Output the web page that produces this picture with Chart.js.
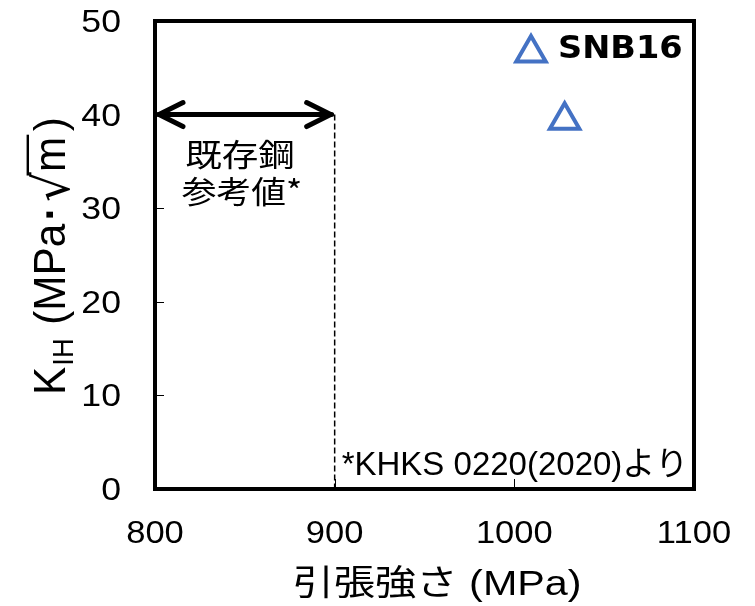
<!DOCTYPE html>
<html>
<head>
<meta charset="utf-8">
<script src="https://cdn.jsdelivr.net/npm/chart.js@4.4.1/dist/chart.umd.min.js"></script>
<style>
  html, body { margin: 0; padding: 0; background: #fff; }
  canvas { display: block; }
</style>
</head>
<body>
<canvas id="c" width="755" height="606"></canvas>
<script>
// ---- data ----
const seriesName = 'SNB16';
const tensileStrength = [1028];     // MPa
const kIH = [39.4];                 // MPa·√m
const xTicks = [800, 900, 1000, 1100];
const yTicks = [0, 10, 20, 30, 40, 50];
const refStrength = [800, 900];     // 既存鋼 reference range (MPa)
const refKIH = 40;                  // 既存鋼 reference K_IH
const refLabel = ['既存鋼', '参考値*'];
const footnote = '*KHKS 0220(2020)より';
const xTitle = '引張強さ (MPa)';

const BLUE = '#4472C4';
const LATIN = '"Liberation Sans", Arial, "Noto Sans CJK JP", sans-serif';
const CJK = '"Noto Sans CJK JP", "Liberation Sans", sans-serif';

const points = tensileStrength.map((x, i) => ({ x, y: kIH[i] }));

// text drawn with a horizontal scale factor
function text(ctx, s, x, y, font, align, sx) {
  ctx.save();
  ctx.font = font;
  ctx.textAlign = align;
  ctx.textBaseline = 'alphabetic';
  ctx.translate(x, y);
  ctx.scale(sx, 1);
  ctx.fillText(s, 0, 0);
  ctx.restore();
}

// frame, tick labels, reference arrow, notes, legend and axis titles
const decorations = {
  id: 'decorations',
  afterDraw(chart) {
    const { ctx, chartArea: a, scales: { x, y } } = chart;
    ctx.save();
    ctx.fillStyle = '#000';
    ctx.strokeStyle = '#000';

    // tick labels
    x.ticks.forEach(t => {
      text(ctx, String(t.value), x.getPixelForValue(t.value), 543, '32px ' + LATIN, 'center', 1.08);
    });
    y.ticks.forEach(t => {
      text(ctx, String(t.value), 121, y.getPixelForValue(t.value) + 11, '31px ' + LATIN, 'right', 1.15);
    });

    // inner tick marks
    ctx.lineWidth = 1;
    ctx.beginPath();
    x.ticks.forEach(t => {
      const px = Math.round(x.getPixelForValue(t.value)) + 0.5;
      ctx.moveTo(px, a.bottom); ctx.lineTo(px, a.bottom - 10);
    });
    y.ticks.forEach(t => {
      const py = Math.round(y.getPixelForValue(t.value)) + 0.5;
      ctx.moveTo(a.left, py); ctx.lineTo(a.left + 9, py);
    });
    ctx.stroke();

    // dashed drop line at the upper end of the reference range
    const xr = x.getPixelForValue(refStrength[1]);
    const yr = y.getPixelForValue(refKIH);
    ctx.setLineDash([6, 3]);
    ctx.lineWidth = 1.5;
    ctx.beginPath();
    ctx.moveTo(xr, yr); ctx.lineTo(xr, a.bottom);
    ctx.stroke();
    ctx.setLineDash([]);

    // double-headed arrow across the reference range
    const xl = x.getPixelForValue(refStrength[0]);
    ctx.lineWidth = 5;
    ctx.lineCap = 'round';
    ctx.lineJoin = 'round';
    ctx.beginPath();
    ctx.moveTo(xl + 3, yr); ctx.lineTo(xr - 3, yr);
    ctx.moveTo(xl + 28, yr - 12); ctx.lineTo(xl + 4, yr); ctx.lineTo(xl + 28, yr + 12);
    ctx.moveTo(xr - 28, yr - 12); ctx.lineTo(xr - 4, yr); ctx.lineTo(xr - 28, yr + 12);
    ctx.stroke();

    // reference label
    text(ctx, refLabel[0], 240, 166, '31px ' + CJK, 'center', 1.18);
    text(ctx, refLabel[1], 242, 203, '31px ' + CJK, 'center', 1.12);

    // footnote
    text(ctx, footnote, xr + 7, 475, '33px ' + LATIN, 'left', 1.0);

    // legend
    const el = chart.getDatasetMeta(0).data[0];
    ctx.strokeStyle = BLUE;
    ctx.fillStyle = '#fff';
    ctx.lineWidth = el.options.borderWidth;
    ctx.lineJoin = 'miter';
    ctx.lineCap = 'butt';
    Chart.helpers.drawPoint(ctx, {
      pointStyle: 'triangle', radius: el.options.radius, borderWidth: el.options.borderWidth, rotation: 0
    }, 531, 53);
    ctx.fillStyle = '#000';
    text(ctx, chart.data.datasets[0].label, 558, 58, 'bold 32px "DejaVu Sans", sans-serif', 'left', 1.05);

    // frame
    ctx.strokeStyle = '#000';
    ctx.lineWidth = 4;
    ctx.strokeRect(a.left, a.top, a.right - a.left, a.bottom - a.top);

    // x-axis title
    text(ctx, xTitle, 437, 595, '35px ' + LATIN, 'center', 1.18);

    // y-axis title: K_IH (MPa·√m), reading bottom to top
    ctx.save();
    ctx.translate(65, 395);
    ctx.rotate(-Math.PI / 2);
    ctx.scale(1.14, 1.2);
    ctx.textAlign = 'left';
    ctx.textBaseline = 'alphabetic';
    let t = 0;
    const put = (s, font, dy = 0) => {
      ctx.font = font;
      ctx.fillText(s, t, dy);
      const w = ctx.measureText(s).width;
      t += w;
      return w;
    };
    put('K', '37px ' + LATIN);
    t += 1;
    put('IH', '24px ' + LATIN, 7);
    t += 12;
    put('(MPa', '37px ' + LATIN);
    t += 3;
    put('·', 'bold 37px ' + LATIN);
    t += 4;
    put('√', '41px "DejaVu Sans", sans-serif', 3);
    const mx = t;
    const mw = put('m', '37px ' + LATIN);
    ctx.lineWidth = 2;
    ctx.beginPath();
    ctx.moveTo(mx - 3, -31);
    ctx.lineTo(mx + mw + 2, -31);
    ctx.stroke();
    t += 5;
    put(')', '37px ' + LATIN);
    ctx.restore();

    ctx.restore();
  }
};

new Chart(document.getElementById('c'), {
  type: 'scatter',
  data: {
    datasets: [{
      label: seriesName,
      data: points,
      pointStyle: 'triangle',
      radius: 17,
      hoverRadius: 17,
      borderWidth: 4,
      borderColor: BLUE,
      backgroundColor: '#fff'
    }]
  },
  options: {
    responsive: false,
    devicePixelRatio: 1,
    animation: false,
    events: [],
    layout: { padding: { left: 0, top: 19, right: 61, bottom: 0 } },
    plugins: { legend: { display: false }, tooltip: { enabled: false } },
    scales: {
      x: {
        type: 'linear',
        min: xTicks[0],
        max: xTicks[xTicks.length - 1],
        afterBuildTicks: s => { s.ticks = xTicks.map(v => ({ value: v })); },
        afterFit: s => { s.height = 117; },
        grid: { display: false },
        border: { display: false },
        ticks: { display: false }
      },
      y: {
        type: 'linear',
        min: yTicks[0],
        max: yTicks[yTicks.length - 1],
        afterBuildTicks: s => { s.ticks = yTicks.map(v => ({ value: v })); },
        afterFit: s => { s.width = 155; },
        grid: { display: false },
        border: { display: false },
        ticks: { display: false }
      }
    }
  },
  plugins: [decorations]
});
</script>
</body>
</html>
